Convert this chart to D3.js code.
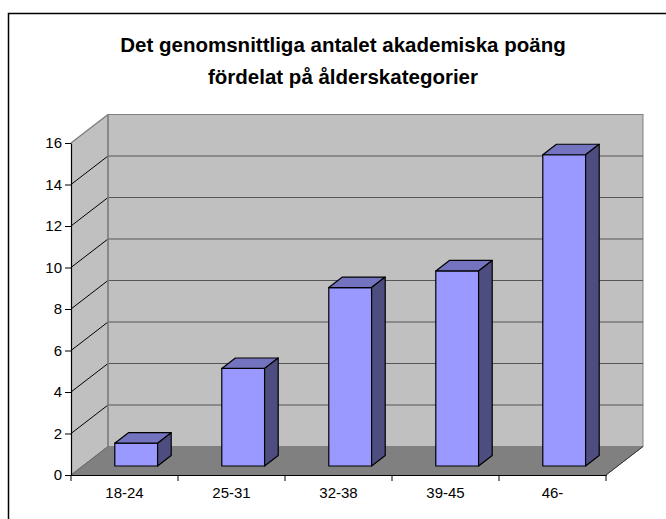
<!DOCTYPE html>
<html>
<head>
<meta charset="utf-8">
<script src="https://cdn.jsdelivr.net/npm/d3@7/dist/d3.min.js"></script>
<style>
  html, body { margin: 0; padding: 0; background: #fff; }
  svg { display: block; font-family: "Liberation Sans", Arial, sans-serif; }
</style>
</head>
<body>
<svg id="chart" width="666" height="519"></svg>
<script>
const categories = ["18-24", "25-31", "32-38", "39-45", "46-"];
const values = [1.1, 4.7, 8.6, 9.4, 15.0];
const yTicks = [0, 2, 4, 6, 8, 10, 12, 14, 16];
const titleLines = ["Det genomsnittliga antalet akademiska poäng", "fördelat på ålderskategorier"];

const svg = d3.select("#chart");
const W = 666, H = 519;

// frame
svg.append("rect").attr("x", 8.5).attr("y", 13.5).attr("width", W).attr("height", H)
  .attr("fill", "none").attr("stroke", "#000").attr("stroke-width", 1.5);

const x0 = 71, x1 = 606, yBase = 475, yTop = 143;
const DX = 37, DY = -28.5;   // depth offset of the walls
const x = d3.scaleBand().domain(categories).range([x0, x1]).paddingInner(0).paddingOuter(0);
const y = d3.scaleLinear().domain([0, 16]).range([yBase, yTop]);

const line = d3.line();

// side wall
svg.append("path")
  .attr("d", line([[x0, y(0)], [x0, y(16)], [x0 + DX, y(16) + DY], [x0 + DX, y(0) + DY]]) + "Z")
  .attr("fill", "#c0c0c0").attr("stroke", "none");
// back wall
svg.append("rect")
  .attr("x", x0 + DX).attr("y", y(16) + DY)
  .attr("width", x1 - x0).attr("height", y(0) - y(16))
  .attr("fill", "#c0c0c0").attr("stroke", "#808080").attr("stroke-width", 1);
// floor
svg.append("path")
  .attr("d", line([[x0, y(0)], [x1, y(0)], [x1 + DX, y(0) + DY], [x0 + DX, y(0) + DY]]) + "Z")
  .attr("fill", "#808080").attr("stroke", "#808080").attr("stroke-width", 1);
svg.append("line")
  .attr("x1", x1).attr("y1", y(0)).attr("x2", x1 + DX).attr("y2", y(0) + DY)
  .attr("stroke", "#333").attr("stroke-width", 1);

// gridlines on back wall
const inner = yTicks.filter(v => v > 0 && v < 16);
svg.append("g").selectAll("line").data(inner).join("line")
  .attr("x1", x0 + DX).attr("x2", x1 + DX)
  .attr("y1", v => y(v) + DY).attr("y2", v => y(v) + DY)
  .attr("stroke", "#555").attr("stroke-width", 1.2);
// gridlines on side wall
svg.append("g").selectAll("line").data(yTicks).join("line")
  .attr("x1", x0).attr("y1", v => y(v))
  .attr("x2", x0 + DX).attr("y2", v => y(v) + DY)
  .attr("stroke", v => (v === 16 ? "#808080" : v === 0 ? "#666" : "#000"))
  .attr("stroke-width", v => (v === 16 ? 1.5 : 1));
// back wall left edge
svg.append("line")
  .attr("x1", x0 + DX).attr("x2", x0 + DX).attr("y1", y(16) + DY).attr("y2", y(0) + DY)
  .attr("stroke", "#808080").attr("stroke-width", 1.5);

// bars
const f0 = 0.316, fd = 0.368;
const bw = x.bandwidth() * 0.4;
const bdx = DX * fd, bdy = DY * fd;
const bars = svg.append("g").selectAll("g").data(categories.map((c, i) => ({ c, v: values[i] }))).join("g");
bars.each(function (d) {
  const g = d3.select(this);
  const xl = x(d.c) + x.bandwidth() * 0.3 + DX * f0;
  const xr = xl + bw;
  const yb = y(0) + DY * f0;
  const yt = y(d.v) + DY * f0;
  g.append("path").attr("d", line([[xl, yb], [xl, yt], [xr, yt], [xr, yb]]) + "Z")
    .attr("fill", "#9999ff").attr("stroke", "#000").attr("stroke-width", 1.2).attr("stroke-linejoin", "round");
  g.append("path").attr("d", line([[xl, yt], [xl + bdx, yt + bdy], [xr + bdx, yt + bdy], [xr, yt]]) + "Z")
    .attr("fill", "#7373bf").attr("stroke", "#000").attr("stroke-width", 1.2).attr("stroke-linejoin", "round");
  g.append("path").attr("d", line([[xr, yb], [xr, yt], [xr + bdx, yt + bdy], [xr + bdx, yb + bdy]]) + "Z")
    .attr("fill", "#4d4d80").attr("stroke", "#000").attr("stroke-width", 1.2).attr("stroke-linejoin", "round");
});

// y axis
const yAxis = svg.append("g").attr("transform", `translate(${x0},0)`)
  .call(d3.axisLeft(y).tickValues(yTicks).tickSize(6).tickSizeOuter(0).tickPadding(3));
yAxis.select(".domain").attr("stroke", "#000").attr("stroke-width", 1.2);
yAxis.selectAll(".tick line").attr("stroke", "#000");
yAxis.selectAll("text").attr("font-size", 15).attr("fill", "#000")
  .attr("font-family", "'Liberation Sans', Arial, sans-serif");

// x axis
const xAxis = svg.append("g").attr("transform", `translate(0,${yBase})`)
  .call(d3.axisBottom(x).tickSize(0).tickPadding(12.5).tickSizeOuter(0));
xAxis.select(".domain").attr("stroke", "#000").attr("stroke-width", 1.2);
xAxis.selectAll("text").attr("font-size", 15).attr("fill", "#000")
  .attr("font-family", "'Liberation Sans', Arial, sans-serif");
const bounds = categories.map(c => x(c)).concat([x(categories[categories.length - 1]) + x.bandwidth()]);
xAxis.append("g").selectAll("line").data(bounds).join("line")
  .attr("x1", d => d).attr("x2", d => d).attr("y1", 0).attr("y2", 6)
  .attr("stroke", "#000");

// title
svg.append("g").selectAll("text").data(titleLines).join("text")
  .attr("x", 343).attr("y", (d, i) => 52 + i * 32)
  .attr("text-anchor", "middle")
  .attr("font-size", 20.5).attr("font-weight", "bold").attr("fill", "#000")
  .text(d => d);
</script>
</body>
</html>
